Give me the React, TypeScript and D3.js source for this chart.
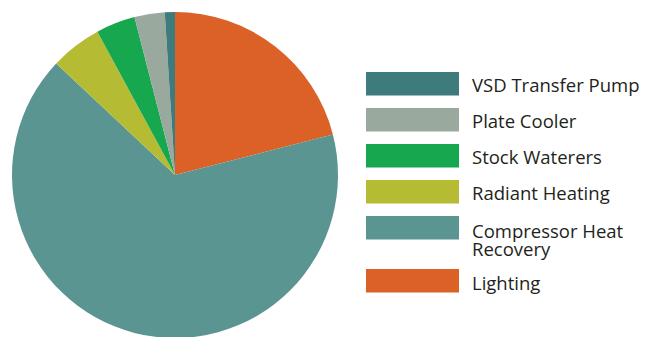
import React from "react";
import * as d3 from "d3";

const categories = ["Lighting", "Compressor Heat Recovery", "Radiant Heating", "Stock Waterers", "Plate Cooler", "VSD Transfer Pump"];
const values = [21, 66, 5.1, 3.9, 3, 1];
const colors = ["#dc6127", "#5a9592", "#b5bc34", "#17a74e", "#9aa99e", "#3d7b7d"];
const legendOrder = ["VSD Transfer Pump", "Plate Cooler", "Stock Waterers", "Radiant Heating", "Compressor Heat Recovery", "Lighting"];
const legendLines: Record<string, string[]> = {
  "VSD Transfer Pump": ["VSD Transfer Pump"],
  "Plate Cooler": ["Plate Cooler"],
  "Stock Waterers": ["Stock Waterers"],
  "Radiant Heating": ["Radiant Heating"],
  "Compressor Heat Recovery": ["Compressor Heat", "Recovery"],
  "Lighting": ["Lighting"],
};
const legendY = [72, 108, 144, 180, 216, 269];
const textBaseline = [92, 128, 164, 200, 238, 290];

export default function App() {
  const W = 656, H = 337;
  const cx = 175, cy = 175, r = 163;
  const color = d3.scaleOrdinal<string, string>().domain(categories).range(colors);
  const pie = d3.pie<number>().sort(null).value((d) => d);
  const arcs = pie(values);
  const arc = d3.arc<d3.PieArcDatum<number>>().innerRadius(0).outerRadius(r);
  return (
    <svg width={W} height={H} style={{ position: "absolute", left: 0, top: 0 }}>
      <rect width={W} height={H} fill="#fff" />
      <g transform={`translate(${cx},${cy})`}>
        {arcs.map((a, i) => (
          <path key={i} d={arc(a) || ""} fill={color(categories[i])} />
        ))}
      </g>
      {legendOrder.map((name, i) => (
        <g key={name}>
          <rect x={366} y={legendY[i]} width={93} height={23.5} fill={color(name)} />
          <text x={472} y={textBaseline[i]} fontFamily="'Open Sans', sans-serif" fontSize={18.5} fill="#231f20">
            {legendLines[name].map((ln, j) => (
              <tspan key={j} x={472} dy={j === 0 ? 0 : 18.3}>{ln}</tspan>
            ))}
          </text>
        </g>
      ))}
    </svg>
  );
}
